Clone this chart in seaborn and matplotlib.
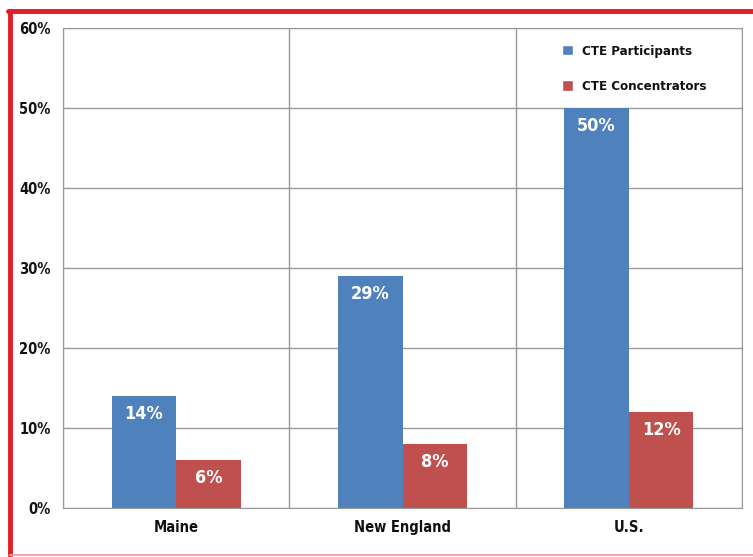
import pandas as pd
import seaborn as sns
import matplotlib.pyplot as plt
from matplotlib.patches import Patch
from matplotlib.lines import Line2D

regions = ["Maine", "New England", "U.S."]
participants = [14, 29, 50]
concentrators = [6, 8, 12]
series = ["CTE Participants", "CTE Concentrators"]
colors = ["#4F81BD", "#C0504D"]
y_ticks = [0, 10, 20, 30, 40, 50, 60]

df = pd.DataFrame({
    "region": regions * 2,
    "value": participants + concentrators,
    "series": [series[0]] * 3 + [series[1]] * 3,
})

sns.set_style("white")
plt.rcParams["font.family"] = ["DejaVu Sans"]
plt.rcParams["font.stretch"] = "condensed"
plt.rcParams["font.weight"] = "bold"
plt.rcParams["text.color"] = "#111111"
plt.rcParams["xtick.color"] = "#111111"
plt.rcParams["ytick.color"] = "#111111"

fig = plt.figure(figsize=(7.53, 5.57), dpi=100)
ax = fig.add_axes([0.0837, 0.088, 0.9017, 0.8617])

sns.barplot(data=df, x="region", y="value", hue="series", palette=colors,
            width=0.57, saturation=1, linewidth=0, ax=ax, legend=False)

for cont in ax.containers:
    for bar in cont:
        h = bar.get_height()
        ax.annotate(f"{h:.0f}%", (bar.get_x() + bar.get_width() / 2, h),
                    xytext=(0, -13), textcoords="offset points",
                    ha="center", va="center", color="white", fontsize=13)

ax.set_xlim(-0.5, 2.5)
ax.set_ylim(0, 60)
ax.set_yticks(y_ticks)
ax.set_yticklabels([f"{t}%" for t in y_ticks], fontsize=10.5)
ax.set_xticks(range(3))
ax.set_xticklabels(regions, fontsize=10.5)
ax.set_xticks([-0.5, 0.5, 1.5, 2.5], minor=True)
ax.tick_params(axis="x", which="major", length=0, pad=9)
ax.tick_params(axis="x", which="minor", length=5, color="#999999")
ax.tick_params(axis="y", length=5, color="#999999", labelcolor="#111111", pad=4)
ax.grid(axis="y", color="#999999", linewidth=1)
ax.grid(axis="x", which="minor", color="#999999", linewidth=1)
ax.set_axisbelow(True)
for s in ax.spines.values():
    s.set_color("#999999")
ax.set_xlabel("")
ax.set_ylabel("")

handles = [Patch(facecolor=c, label=l) for c, l in zip(colors, series)]
ax.legend(handles=handles, loc="upper left", bbox_to_anchor=(0.718, 0.99),
          frameon=False, handlelength=0.8, handleheight=0.8,
          labelspacing=1.7, handletextpad=0.7, fontsize=9.5)

# red frame around the chart
fig.add_artist(Line2D([0.0135, 0.0135], [0.003, 0.981], color="#E31E24", lw=3.5,
                      transform=fig.transFigure))
fig.add_artist(Line2D([0.011, 1.0], [0.981, 0.981], color="#E31E24", lw=3.5,
                      transform=fig.transFigure))
fig.add_artist(Line2D([0.0135, 1.0], [0.004, 0.004], color="#F4A6A8", lw=1.5,
                      transform=fig.transFigure))

fig.savefig("out.png", dpi=100)
